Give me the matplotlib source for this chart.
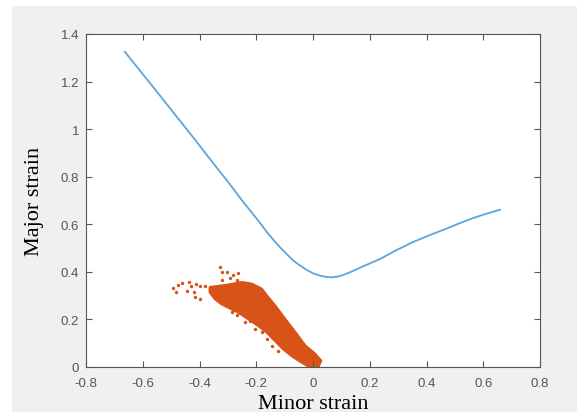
import matplotlib
matplotlib.use('Agg')
import matplotlib.pyplot as plt
from matplotlib.patches import Rectangle, Polygon

# forming limit curve
flc_x = [-0.663, -0.56, -0.48, -0.42, -0.363, -0.30, -0.246, -0.20, -0.163,
         -0.14, -0.116, -0.092, -0.069, -0.045, -0.022, 0.0, 0.025, 0.045,
         0.066, 0.087, 0.107, 0.13, 0.18, 0.236, 0.29, 0.352, 0.41, 0.471,
         0.52, 0.564, 0.61, 0.659]
flc_y = [1.325, 1.172, 1.052, 0.962, 0.874, 0.779, 0.694, 0.626, 0.568,
         0.535, 0.503, 0.474, 0.447, 0.426, 0.408, 0.394, 0.384, 0.379,
         0.377, 0.380, 0.387, 0.398, 0.425, 0.454, 0.489, 0.525, 0.554,
         0.582, 0.606, 0.626, 0.644, 0.661]

# outline of the dense strain cloud
cloud_x = [-0.363, -0.299, -0.251, -0.216, -0.181, -0.163, -0.134, -0.099,
           -0.063, -0.028, 0.007, 0.028, 0.019, -0.011, -0.040, -0.075,
           -0.105, -0.134, -0.163, -0.193, -0.228, -0.263, -0.287, -0.322,
           -0.345, -0.363]
cloud_y = [0.335, 0.345, 0.356, 0.349, 0.328, 0.300, 0.258, 0.202, 0.146,
           0.090, 0.055, 0.026, 0.003, 0.0, 0.020, 0.047, 0.076, 0.111,
           0.146, 0.174, 0.202, 0.230, 0.244, 0.265, 0.286, 0.314]

# scattered points outside the dense cloud
pts_x = [-0.492, -0.483, -0.475, -0.461, -0.436, -0.431, -0.412, -0.398,
         -0.381, -0.419, -0.416, -0.398, -0.443, -0.328, -0.322, -0.302,
         -0.281, -0.263, -0.293, -0.322, -0.267,
         -0.287, -0.269, -0.240, -0.222, -0.204, -0.181, -0.163, -0.146,
         -0.122]
pts_y = [0.331, 0.314, 0.345, 0.353, 0.356, 0.339, 0.350, 0.339, 0.339,
         0.314, 0.293, 0.286, 0.321, 0.419, 0.401, 0.398, 0.387, 0.395,
         0.373, 0.367, 0.367,
         0.230, 0.219, 0.188, 0.195, 0.160, 0.146, 0.118, 0.090, 0.069]

LINE_COLOR = '#5aa6dc'
CLOUD_COLOR = '#d95319'
BG = '#f0f0f0'

fig = plt.figure(figsize=(5.8, 4.14), dpi=100, facecolor='white')
fig.patches.append(Rectangle((12 / 580, 1 / 414), 565 / 580, 406 / 414,
                             transform=fig.transFigure, facecolor=BG,
                             edgecolor='none', zorder=-10))
ax = fig.add_axes([86 / 580, 46 / 414, 454 / 580, 333 / 414])
ax.set_facecolor('white')

ax.plot(flc_x, flc_y, color=LINE_COLOR, linewidth=1.3)
ax.add_patch(Polygon(list(zip(cloud_x, cloud_y)), closed=True,
                     facecolor=CLOUD_COLOR, edgecolor=CLOUD_COLOR,
                     linewidth=2.0, joinstyle='round'))
ax.scatter(pts_x, pts_y, s=6, color=CLOUD_COLOR, linewidths=0)

ax.set_xlim(-0.8, 0.8)
ax.set_ylim(0, 1.4)
ax.set_xticks([-0.8, -0.6, -0.4, -0.2, 0, 0.2, 0.4, 0.6, 0.8])
ax.set_xticklabels(['-0.8', '-0.6', '-0.4', '-0.2', '0', '0.2', '0.4', '0.6', '0.8'])
ax.set_yticks([0, 0.2, 0.4, 0.6, 0.8, 1, 1.2, 1.4])
ax.set_yticklabels(['0', '0.2', '0.4', '0.6', '0.8', '1', '1.2', '1.4'])
ax.tick_params(direction='in', top=True, right=True, length=4, width=0.8,
               colors='#555555', labelsize=9.5)
ax.tick_params(axis='x', pad=7)
ax.tick_params(axis='y', pad=5)
for lab in ax.get_xticklabels() + ax.get_yticklabels():
    lab.set_family('Liberation Sans')
for sp in ax.spines.values():
    sp.set_color('#555555')
    sp.set_linewidth(0.8)

ax.set_xlabel('Minor strain', fontsize=16, family='Liberation Serif',
              color='black', labelpad=4)
ax.set_ylabel('Major strain', fontsize=16, family='Liberation Serif',
              color='black', labelpad=12)

fig.savefig('out.png', dpi=100, facecolor=fig.get_facecolor())
